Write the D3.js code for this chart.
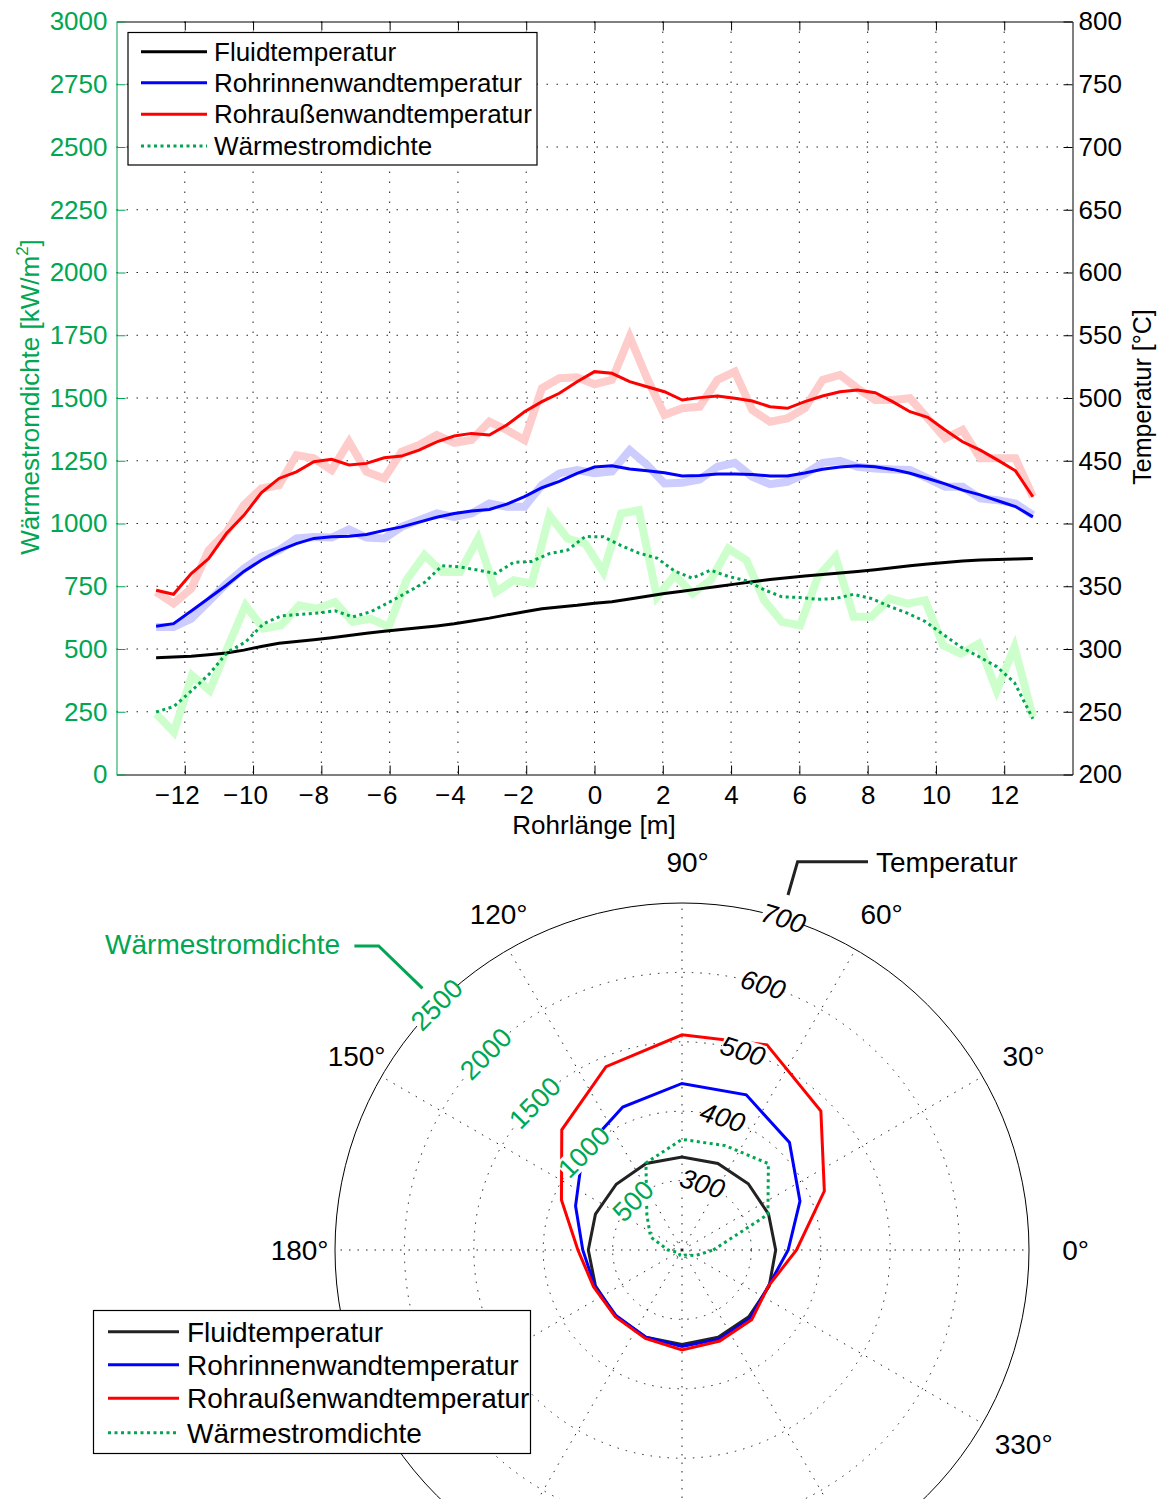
<!DOCTYPE html>
<html>
<head>
<meta charset="utf-8">
<title>Rohrtemperaturen</title>
<style>
  body { margin: 0; background: #fff; }
  text { font-family: "Liberation Sans", Arial, Helvetica, sans-serif; }
</style>
</head>
<body>
<svg id="chart" width="1160" height="1499"></svg>
<script src="https://d3js.org/d3.v7.min.js"></script>
<script>
// ---- data: Rohrlänge (x) ----
var seriesNames = ["Fluidtemperatur", "Rohrinnenwandtemperatur", "Rohraußenwandtemperatur", "Wärmestromdichte"];

// positions of the temperature samples [m]
var posT = [-12.84,-12.33,-11.81,-11.30,-10.78,-10.27,-9.76,-9.24,-8.73,-8.22,
            -7.70,-7.19,-6.68,-6.16,-5.65,-5.14,-4.62,-4.11,-3.60,-3.08,
            -2.57,-2.05,-1.54,-1.03,-0.51,0.00,0.51,1.03,1.54,2.05,
            2.57,3.08,3.60,4.11,4.62,5.14,5.65,6.16,6.68,7.19,
            7.70,8.22,8.73,9.24,9.76,10.27,10.78,11.30,11.81,12.33,
            12.84];
// positions of the heat flux samples [m]
var posQ = [-12.84,-12.32,-11.79,-11.27,-10.75,-10.22,-9.70,-9.18,-8.65,-8.13,
            -7.60,-7.08,-6.56,-6.03,-5.51,-4.98,-4.46,-3.94,-3.41,-2.89,
            -2.37,-1.84,-1.32,-0.79,-0.27,0.26,0.78,1.30,1.83,2.35,
            2.87,3.40,3.92,4.45,4.97,5.49,6.02,6.54,7.06,7.59,
            8.11,8.64,9.16,9.68,10.21,10.73,11.25,11.78,12.30,12.84];

var fluidTemp = [293.1,293.6,294.3,295.5,296.9,299.1,302.0,304.5,305.9,307.3,
                 309.0,310.7,312.5,314.1,315.5,316.9,318.4,320.1,322.3,324.6,
                 327.2,329.6,332.0,333.5,334.8,336.5,337.7,339.9,342.1,344.3,
                 346.1,347.9,349.8,351.7,353.6,355.3,356.7,358.1,359.4,360.6,
                 361.8,363.2,364.8,366.4,367.7,368.9,370.1,370.9,371.3,371.7,
                 372.1];
var innerRaw = [317.5,317.5,324.2,338,352,364,373.4,378.7,388.1,389.3,
                388.8,395.2,388.8,388.1,397.3,402.7,408,405.3,408,416,
                413.3,413.3,430.6,439.9,442.6,440,441.5,458.5,446.6,431.9,
                432.4,435.1,445.2,448.4,437.2,431.4,433.2,439.4,448.4,450,
                445.2,443.9,443.1,442.6,435.9,429.2,429.2,420,418.6,416,
                406.7];
var innerTemp = [318.1,320.2,330.3,340.5,350.8,361.8,370.7,378.4,384,388.1,
                 389.4,389.9,391.3,394.5,397.3,401.1,405,407.9,410,411.2,
                 415.4,421.5,428.5,433.5,439.9,445,446,443.5,442,440.4,
                 437.8,438.3,439.4,439.4,439.1,437.8,437.8,440.3,443.3,445.1,
                 446,445.3,443.1,440,435.9,431.6,426.6,422.8,418.1,413.5,
                 405.3];
var outerRaw = [345.5,336.2,348.2,378.7,393.3,414.6,427.9,430.6,454.5,451.9,
                442.6,465.1,441.2,435.9,457.2,462.5,470.5,464.3,466.5,481.1,
                474.5,466.5,507.8,515.7,516.5,511,514.4,548.9,515.7,486.4,
                491.8,493.1,514.4,521,490.4,481.1,483.8,491.8,514.4,518.4,
                507.8,498.4,498.4,499.8,483.8,467.8,474.5,451.9,451.9,451.9,
                421.3];
var outerTemp = [346.8,343.6,360.1,372.1,392,406.5,424.5,435.9,441.2,449.2,
                 451.1,446.6,447.9,452.4,453.7,458.5,465.1,469.7,471.8,470.5,
                 478.5,489.1,497.1,503.8,513,521,519.7,513,509,505,
                 498.4,500.3,501.6,499.8,497.6,493.1,491.8,497.1,501.6,505,
                 506.4,504.2,497.1,489.1,484.6,474.5,465.1,458.5,450.5,442,
                 421.3];
var fluxRaw = [242,169,395,335,505,674,581,594,674,661,
               687,608,621,588,774,874,807,807,940,727,
               774,761,1033,940,920,807,1040,1053,707,794,
               721,774,900,854,694,608,594,787,867,628,
               628,701,681,694,515,481,521,335,508,229];
var fluxSmooth = [249,271,335,402,488,528,600,632,638,643,
                  652,628,648,685,724,765,832,827,814,801,
                  845,849,880,894,948,947,912,882,862,810,
                  782,814,789,772,736,708,705,698,701,718,
                  701,670,643,610,558,508,470,430,366,222];

var xTicks = [-12,-10,-8,-6,-4,-2,0,2,4,6,8,10,12];
var fluxTicks = [0,250,500,750,1000,1250,1500,1750,2000,2250,2500,2750,3000];
var tempTicks = [200,250,300,350,400,450,500,550,600,650,700,750,800];

// ---- data: Umfang (polar) ----
var polAngles = [0,22.5,45,67.5,90,112.5,135,157.5,180,202.5,225,247.5,270,292.5,315,337.5];
var polFluid = [335,335,335,335,334,335,334,335,335,335,335,336,336,336,336,336];
var polInner = [353,384,419,442,440,423,402,366,343,336,334,336,339,339,339,335];
var polOuter = [365,422,483,520,510,486,445,388,350,338,336,338,344,342,342,335];
var polFlux = [225,670,880,814,797,679,358,245,100,40,30,40,45,40,50,105];

var polGridAngles = [0,30,60,90,120,150,180,210,240,270,300,330];
var polLabelAngles = [0,30,60,90,120,150,180,330];   // the others lie under the legend / below the page
var polTempTicks = [300,400,500,600,700];
var polFluxTicks = [500,1000,1500,2000,2500];

var green = "#00a651";
var colors = ["#000000", "#0000ff", "#ff0000", green];

var svg = d3.select("#chart");

// ================= oberes Diagramm =================
var P = {l: 116.5, r: 1072.5, t: 21.5, b: 774.5};
var x = d3.scaleLinear().domain([-14, 14]).range([P.l, P.r]);
var yQ = d3.scaleLinear().domain([0, 3000]).range([P.b, P.t]);
var yT = d3.scaleLinear().domain([200, 800]).range([P.b, P.t]);

var dots = "1.5,8.5";
var grid = svg.append("g").attr("stroke", "#222").attr("stroke-width", 1).attr("stroke-dasharray", dots);
grid.selectAll("line.v").data(xTicks).join("line").attr("class", "v")
    .attr("x1", d => x(d)).attr("x2", d => x(d)).attr("y1", P.t).attr("y2", P.b);
grid.selectAll("line.h").data(fluxTicks.slice(1, -1)).join("line").attr("class", "h")
    .attr("x1", P.l).attr("x2", P.r).attr("y1", d => yQ(d)).attr("y2", d => yQ(d));

var lineT = d3.line().x((d, i) => x(posT[i])).y(d => yT(d));
var lineQ = d3.line().x((d, i) => x(posQ[i])).y(d => yQ(d));

// raw (pale) curves
svg.append("path").attr("d", lineT(outerRaw)).attr("fill", "none").attr("stroke", "#ffcccc").attr("stroke-width", 8).attr("stroke-linejoin", "miter");
svg.append("path").attr("d", lineT(innerRaw)).attr("fill", "none").attr("stroke", "#ccccff").attr("stroke-width", 8).attr("stroke-linejoin", "miter");
svg.append("path").attr("d", lineQ(fluxRaw)).attr("fill", "none").attr("stroke", "#ccffcc").attr("stroke-width", 8).attr("stroke-linejoin", "miter");

// smoothed curves
svg.append("path").attr("d", lineT(fluidTemp)).attr("fill", "none").attr("stroke", colors[0]).attr("stroke-width", 3);
svg.append("path").attr("d", lineT(innerTemp)).attr("fill", "none").attr("stroke", colors[1]).attr("stroke-width", 3);
svg.append("path").attr("d", lineT(outerTemp)).attr("fill", "none").attr("stroke", colors[2]).attr("stroke-width", 3);
svg.append("path").attr("d", lineQ(fluxSmooth)).attr("fill", "none").attr("stroke", colors[3]).attr("stroke-width", 3).attr("stroke-dasharray", "3,3.5");

// axes
function styleAxis(g, col) {
  g.attr("font-size", 26).attr("font-family", "Liberation Sans, Arial, sans-serif").attr("color", col);
  g.selectAll("line, path").attr("stroke-width", 1);
}
var gx = svg.append("g").attr("transform", "translate(0," + P.b + ")")
  .call(d3.axisBottom(x).tickValues(xTicks).tickSize(-9).tickSizeOuter(0).tickPadding(11)
        .tickFormat(d => Math.abs(d)));
styleAxis(gx, "#000");
// minus sign hangs left of the centred digits
gx.selectAll(".tick").each(function(d) {
  if (d >= 0) return;
  var t = d3.select(this).select("text");
  var w = t.node().getComputedTextLength();
  d3.select(this).append("text").attr("fill", "currentColor").attr("x", -w / 2 - 1)
    .attr("y", t.attr("y")).attr("dy", t.attr("dy")).attr("text-anchor", "end").text("\u2212");
});
var gxt = svg.append("g").attr("transform", "translate(0," + P.t + ")")
  .call(d3.axisTop(x).tickValues(xTicks).tickSize(-9).tickSizeOuter(0).tickFormat(""));
styleAxis(gxt, "#000");
var gyl = svg.append("g").attr("transform", "translate(" + P.l + ",0)")
  .call(d3.axisLeft(yQ).tickValues(fluxTicks).tickSize(-9).tickSizeOuter(0).tickPadding(9).tickFormat(d3.format("d")));
styleAxis(gyl, green);
var gyr = svg.append("g").attr("transform", "translate(" + P.r + ",0)")
  .call(d3.axisRight(yT).tickValues(tempTicks).tickSize(-9).tickSizeOuter(0).tickPadding(6).tickFormat(d3.format("d")));
styleAxis(gyr, "#000");

// axis titles
svg.append("text").attr("x", 594).attr("y", 834).attr("text-anchor", "middle").attr("font-size", 26).text("Rohrlänge [m]");
var yl = svg.append("text").attr("transform", "translate(39,397) rotate(-90)").attr("text-anchor", "middle")
  .attr("font-size", 26).attr("fill", green);
yl.append("tspan").text("Wärmestromdichte [kW/m");
yl.append("tspan").attr("font-size", 17).attr("dy", -11).text("2");
yl.append("tspan").attr("dy", 11).text("]");
svg.append("text").attr("transform", "translate(1151,397) rotate(-90)").attr("text-anchor", "middle")
  .attr("font-size", 25).text("Temperatur [°C]");

// legend
function legend(x0, y0, w, h, lx0, lx1, tx, ys, fs) {
  var g = svg.append("g");
  g.append("rect").attr("x", x0).attr("y", y0).attr("width", w).attr("height", h)
    .attr("fill", "#fff").attr("stroke", "#000").attr("stroke-width", 1.2);
  var it = g.selectAll("g.it").data(seriesNames).join("g").attr("class", "it");
  it.append("line").attr("x1", lx0).attr("x2", lx1).attr("y1", (d, i) => ys[i]).attr("y2", (d, i) => ys[i])
    .attr("stroke", (d, i) => colors[i]).attr("stroke-width", 3)
    .attr("stroke-dasharray", (d, i) => i === 3 ? "3,3.5" : null);
  it.append("text").attr("x", tx).attr("y", (d, i) => ys[i]).attr("dy", "0.35em").attr("font-size", fs).text(d => d);
}
legend(128, 32.5, 409, 132.5, 141, 207, 214, [51.7, 82.7, 114.3, 146], 26);

// ================= Polardiagramm =================
var C = {x: 682, y: 1250}, R = 347;
var rT = d3.scaleLinear().domain([200, 700]).range([0, R]);
var rQ = d3.scaleLinear().domain([0, 2500]).range([0, R]);
var rad = a => a * Math.PI / 180;
var pg = svg.append("g").attr("transform", "translate(" + C.x + "," + C.y + ")");

var pgrid = pg.append("g").attr("fill", "none").attr("stroke", "#222").attr("stroke-width", 1).attr("stroke-dasharray", "1.5,7");
pgrid.selectAll("circle").data(polTempTicks.slice(0, -1)).join("circle").attr("r", d => rT(d));
pgrid.append("circle").attr("r", 8);
pgrid.selectAll("line").data(polGridAngles).join("line")
  .attr("x1", 0).attr("y1", 0)
  .attr("x2", d => R * Math.cos(rad(d))).attr("y2", d => -R * Math.sin(rad(d)));
pg.append("circle").attr("r", R).attr("fill", "none").attr("stroke", "#000").attr("stroke-width", 1);

// angle labels (number centred, degree sign appended)
pg.selectAll("text.ang").data(polLabelAngles).join("text").attr("class", "ang")
  .attr("font-size", 28).attr("dy", "0.35em")
  .each(function(d) {
    var t = d3.select(this).text(d);
    var w = this.getComputedTextLength();
    var shift = (d > 90 && d < 180) ? 5 : 0;
    t.attr("x", 388 * Math.cos(rad(d)) - w / 2 + shift).attr("y", -388 * Math.sin(rad(d)));
    t.append("tspan").text("°");
  });

function radial(vals, rs) {
  return d3.lineRadial().angle((d, i) => rad(90 - polAngles[i])).radius(d => rs(d)).curve(d3.curveLinearClosed)(vals);
}
pg.append("path").attr("d", radial(polFluid, rT)).attr("fill", "none").attr("stroke", "#222").attr("stroke-width", 3);
pg.append("path").attr("d", radial(polInner, rT)).attr("fill", "none").attr("stroke", colors[1]).attr("stroke-width", 3);
pg.append("path").attr("d", radial(polOuter, rT)).attr("fill", "none").attr("stroke", colors[2]).attr("stroke-width", 3);
pg.append("path").attr("d", radial(polFlux, rQ)).attr("fill", "none").attr("stroke", green).attr("stroke-width", 3).attr("stroke-dasharray", "3,3.5");

// radial tick labels with white background
function rLabels(ticks, rs, ang, fs, col, italic) {
  ticks.forEach(function(v) {
    var r = rs(v);
    var g = pg.append("g").attr("transform", "translate(" + (r * Math.cos(rad(ang))) + "," + (-r * Math.sin(rad(ang))) + ") rotate(" + (90 - ang) + ")");
    var bg = g.append("rect").attr("fill", "#fff");
    var t = g.append("text").attr("text-anchor", "middle").attr("dy", "0.35em").attr("font-size", fs)
      .attr("fill", col).attr("font-style", italic ? "italic" : null).text(v);
    var b = t.node().getBBox();
    bg.attr("x", b.x + 1).attr("y", b.y + 3).attr("width", b.width - 2).attr("height", b.height - 6);
  });
}
rLabels(polTempTicks, rT, 73, 27, "#000", true);
rLabels(polFluxTicks, rQ, 135, 27, green, false);

// callouts
svg.append("path").attr("d", "M788,895 L797.6,861.7 L868,861.7").attr("fill", "none").attr("stroke", "#222").attr("stroke-width", 3);
svg.append("text").attr("x", 876).attr("y", 872).attr("font-size", 28).text("Temperatur");
svg.append("path").attr("d", "M354.4,946 L378.7,946 L422.5,988.3").attr("fill", "none").attr("stroke", green).attr("stroke-width", 3);
svg.append("text").attr("x", 340).attr("y", 954).attr("text-anchor", "end").attr("font-size", 28).attr("fill", green).text("Wärmestromdichte");

// legend (polar)
colors[0] = "#222";
legend(93.5, 1310.5, 437, 143, 108, 179, 187, [1331.7, 1364.7, 1398.3, 1432.7], 28);
</script>
</body>
</html>
